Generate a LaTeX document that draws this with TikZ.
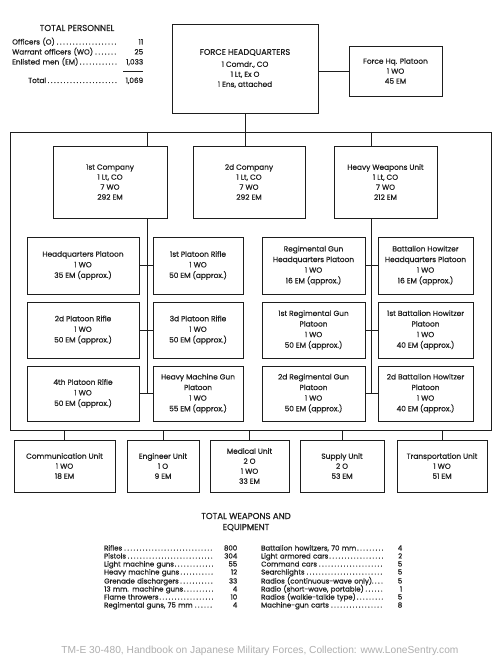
\documentclass[tikz,border=0pt]{standalone}
\usepackage{fontspec}
\setmainfont{Poppins}[FakeBold=0.5]
\AtBeginDocument{\addfontfeature{FakeBold=0.5}}
\newfontfamily\inkfont{Poppins}[FakeBold=0.5]
\newfontfamily\footfont{Liberation Sans}
\definecolor{ink}{RGB}{30,30,30}
\definecolor{footgray}{RGB}{175,175,175}
\begin{document}
\begin{tikzpicture}[x=1pt,y=-1pt,
  box/.style={draw=ink, line width=0.8pt, inner sep=0pt, align=center, text=ink,
              font=\inkfont\fontsize{7.4}{10}\selectfont},
  plt/.style={box, font=\inkfont\fontsize{7.4}{10.6}\selectfont},
  link/.style={draw=ink, line width=0.8pt},
  row/.style={anchor=base west, inner sep=0pt, text=ink, font=\inkfont\fontsize{7.3}{9}\selectfont},
  wrow/.style={anchor=base west, inner sep=0pt, text=ink, font=\inkfont\fontsize{7}{8}\selectfont},
  title/.style={inner sep=0pt, text=ink, font=\inkfont\fontsize{8.6}{11}\selectfont}]
\useasboundingbox[fill=white] (0,0) rectangle (500,660);

% ---------- total personnel ----------
\node[title, anchor=base] (tp) at (77,31) {TOTAL PERSONNEL};
\node[row, text width=131pt] (p1) at (12,44.5) {Officers (O)\dotfill\hspace{5pt}\makebox[20pt][r]{11}};
\node[row, text width=131pt] (p2) at (12,54.5) {Warrant officers (WO)\dotfill\hspace{5pt}\makebox[20pt][r]{25}};
\node[row, text width=131pt] (p3) at (12,64.5) {Enlisted men (EM)\dotfill\hspace{5pt}\makebox[20pt][r]{1,033}};
\draw[ink, line width=0.6pt] (123,71) -- (143,71);
\node[row, text width=115pt] (p4) at (28,83) {Total\dotfill\hspace{5pt}\makebox[20pt][r]{1,069}};

% ---------- headquarters ----------
\node[box, minimum width=146pt, minimum height=89pt] (hq) at (245,68.5)
  {{\fontsize{8.2}{10}\selectfont FORCE HEADQUARTERS}\\[2pt]1 Comdr., CO\\1 Lt, Ex O\\1 Ens, attached};
\node[box, minimum width=93pt, minimum height=50pt] (hqplt) at (395.5,71)
  {Force Hq. Platoon\\1 WO\\45 EM};
\draw[link] (hq.east |- hqplt.west) -- (hqplt.west);

% ---------- frame ----------
\coordinate (fTL) at (10,132);
\coordinate (fBR) at (491,430);
\draw[link] (fTL) rectangle (fBR);
\coordinate (spineL) at (147,0);
\coordinate (spineR) at (371,0);

% ---------- companies ----------
\node[box, minimum width=114pt, minimum height=72pt] (co1) at (110,182)
  {1st Company\\1 Lt, CO\\7 WO\\292 EM};
\node[box, minimum width=112pt, minimum height=72pt] (co2) at (249,182)
  {2d Company\\1 Lt, CO\\7 WO\\292 EM};
\node[box, minimum width=103pt, minimum height=72pt] (hw) at (385.5,182)
  {Heavy Weapons Unit\\1 Lt, CO\\7 WO\\212 EM};

\draw[link] (hq.south) -- (hq.south |- co2.north);
\draw[link] (spineL |- fTL) -- (co1.north -| spineL);
\draw[link] (spineR |- fTL) -- (hw.north -| spineR);

% ---------- platoons ----------
\node[plt, minimum width=112pt, minimum height=57pt] (a1) at (83,265.5)
  {Headquarters Platoon\\1 WO\\35 EM (approx.)};
\node[plt, minimum width=90pt, minimum height=57pt] (b1) at (198,265.5)
  {1st Platoon Rifle\\1 WO\\50 EM (approx.)};
\node[plt, minimum width=112pt, minimum height=56pt] (a2) at (83,330)
  {2d Platoon Rifle\\1 WO\\50 EM (approx.)};
\node[plt, minimum width=90pt, minimum height=56pt] (b2) at (198,330)
  {3d Platoon Rifle\\1 WO\\50 EM (approx.)};
\node[plt, minimum width=112pt, minimum height=55pt] (a3) at (83,393.5)
  {4th Platoon Rifle\\1 WO\\50 EM (approx.)};
\node[plt, minimum width=90pt, minimum height=55pt] (b3) at (198,393.5)
  {Heavy Machine Gun\\Platoon\\1 WO\\55 EM (approx.)};

\node[plt, minimum width=103pt, minimum height=57pt] (c1) at (313.5,265.5)
  {Regimental Gun\\Headquarters Platoon\\1 WO\\16 EM (approx.)};
\node[plt, minimum width=95pt, minimum height=57pt] (d1) at (425.5,265.5)
  {Battalion Howitzer\\Headquarters Platoon\\1 WO\\16 EM (approx.)};
\node[plt, minimum width=103pt, minimum height=56pt] (c2) at (313.5,330)
  {1st Regimental Gun\\Platoon\\1 WO\\50 EM (approx.)};
\node[plt, minimum width=95pt, minimum height=56pt] (d2) at (425.5,330)
  {1st Battalion Howitzer\\Platoon\\1 WO\\40 EM (approx.)};
\node[plt, minimum width=103pt, minimum height=55pt] (c3) at (313.5,393.5)
  {2d Regimental Gun\\Platoon\\1 WO\\50 EM (approx.)};
\node[plt, minimum width=95pt, minimum height=55pt] (d3) at (425.5,393.5)
  {2d Battalion Howitzer\\Platoon\\1 WO\\40 EM (approx.)};

\draw[link] (co1.south -| spineL) -- (a3.east -| spineL);
\draw[link] (hw.south -| spineR) -- (c3.east -| spineR);
\foreach \l/\r in {a1/b1,a2/b2,a3/b3,c1/d1,c2/d2,c3/d3}
  \draw[link] (\l.east) -- (\r.west);

% ---------- service units ----------
\node[box, minimum width=101pt, minimum height=52pt] (comm) at (64.5,466)
  {Communication Unit\\1 WO\\18 EM};
\node[box, minimum width=72pt, minimum height=52pt] (eng) at (163,466)
  {Engineer Unit\\1 O\\9 EM};
\node[box, minimum width=79pt, minimum height=52pt] (med) at (249.5,466)
  {Medical Unit\\2 O\\1 WO\\33 EM};
\node[box, minimum width=84pt, minimum height=52pt] (sup) at (342,466)
  {Supply Unit\\2 O\\53 EM};
\node[box, minimum width=90pt, minimum height=52pt] (trn) at (442,466)
  {Transportation Unit\\1 WO\\51 EM};
\foreach \u in {comm,eng,med,sup,trn}
  \draw[link] (\u.north) -- (\u.north |- fBR);

% ---------- weapons table ----------
\node[title, anchor=base] (tw1) at (246,519) {TOTAL WEAPONS AND};
\node[title, anchor=base] (tw2) at (246,530) {EQUIPMENT};

\foreach \y/\t/\n [count=\i] in {
  550.5/Rifles/800, 558.5/Pistols/304, 566.5/Light machine guns/55,
  574.5/Heavy machine guns/12, 583.5/Grenade dischargers/33,
  591.5/13 mm. machine guns/4, 599.5/Flame throwers/10,
  607.5/{Regimental guns, 75 mm}/4}
  \node[wrow, text width=133pt] (wl\i) at (104,\y) {\t\dotfill\hspace{9pt}\makebox[14pt][r]{\n}};

\foreach \y/\t/\n [count=\i] in {
  550.5/{Battalion howitzers, 70 mm}/4, 558.5/Light armored cars/2,
  566.5/Command cars/5, 574.5/Searchlights/5,
  583.5/Radios (continuous-wave only)./5, 591.5/{Radio (short-wave, portable)}/1,
  599.5/Radios (walkie-talkie type)/5, 607.5/Machine-gun carts/8}
  \node[wrow, text width=141pt] (wr\i) at (261,\y) {\t\dotfill\hspace{12pt}\makebox[6pt][r]{\n}};

% ---------- footer ----------
\node[inner sep=0pt, text=footgray, font=\footfont\fontsize{10.2}{12}\selectfont] (foot) at (260,651)
  {TM-E 30-480, Handbook on Japanese Military Forces, Collection: www.LoneSentry.com};
\end{tikzpicture}
\end{document}
